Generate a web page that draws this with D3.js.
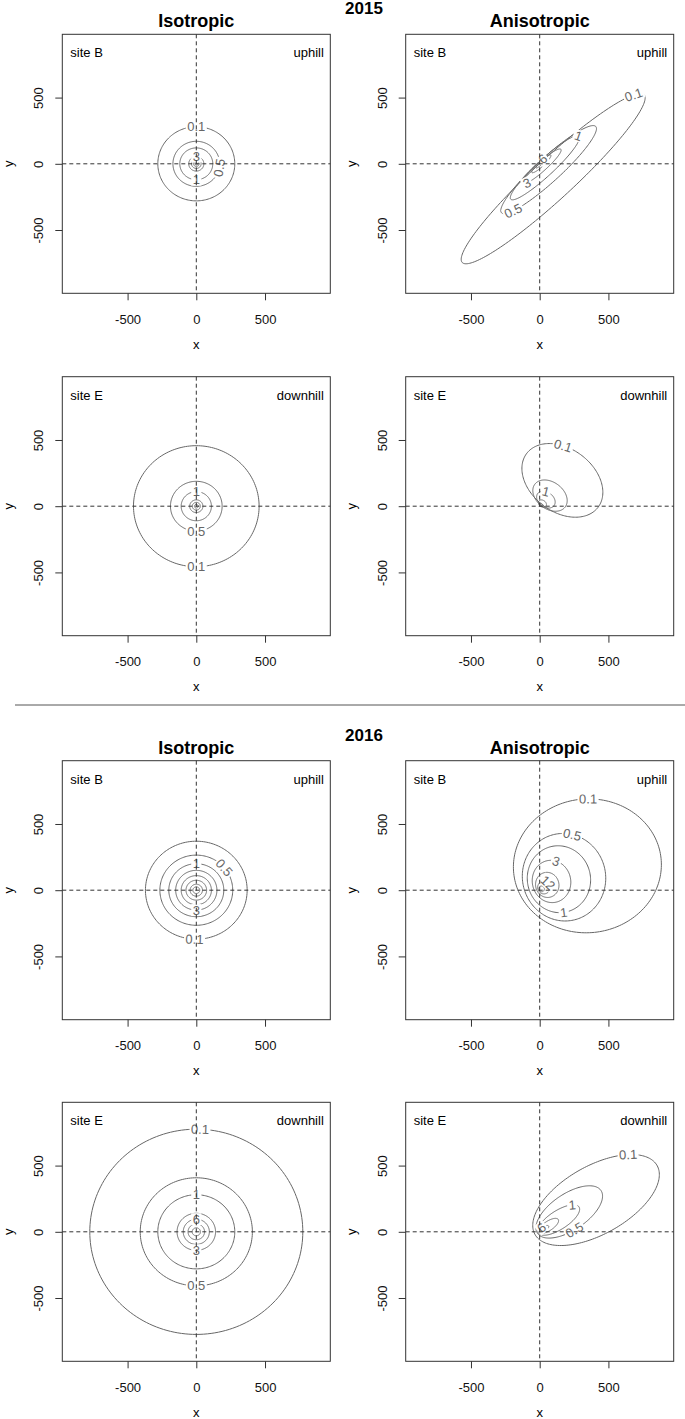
<!DOCTYPE html>
<html>
<head>
<meta charset="utf-8">
<script src="https://cdnjs.cloudflare.com/ajax/libs/d3/7.8.5/d3.min.js"></script>
<style>
body { margin: 0; background: #fff; }
text { font-family: "Liberation Sans", Arial, Helvetica, sans-serif; }
</style>
</head>
<body>
<script>
// dispersal kernel contours, 2015 / 2016, isotropic vs anisotropic

var years = ["2015", "2016"];
var models = ["Isotropic", "Anisotropic"];
var sites = ["site B", "site E"];
var slopes = ["uphill", "downhill"];
var ticks = [-500, 0, 500];
var levels = [0.1, 0.5, 1, 3, 6, 12, 24, 48];

// isotropic kernels: contour radius (m) for each level
var iso2015B = [280, 170, 120, 55, 35, 20, 10];
var iso2015E = [457, 188, 110, 48, 29, 14];
var iso2016B = [370, 265, 200, 150, 110, 75, 45, 25];
var iso2016E = [775, 408, 280, 140, 95, 60, 30];

// anisotropic kernels: [cx, cy, rx, ry, angle] for each level
var aniso2015B = [
  [98, -112, 916, 150, 43.8],
  [65, -44, 473, 90, 43.6],
  [38, -30, 344, 62, 43.8],
  [15, -20, 190, 35, 43],
  [12, 0, 95, 20, 44],
  [5, 0, 45, 10, 44]
];
var aniso2015E = [
  [165, 195, 330, 235, -40],
  [75, 80, 140, 100, -40],
  [45, 50, 75, 55, -40],
  [20, 20, 32, 24, -40],
  [10, 10, 15, 11, -40]
];
var aniso2016B = [
  [347, 184, 539, 505, 8],
  [177, 98, 303, 331, 8],
  [140, 83, 230, 253, 8],
  [86, 66, 140, 160, 8],
  [55, 40, 85, 95, 8],
  [30, 20, 45, 48, 8],
  [14, 10, 20, 22, 8]
];
var aniso2016E = [
  [410, 240, 515, 255, 31],
  [215, 150, 282, 135, 35.6],
  [138, 89, 178, 70, 34],
  [65, 45, 85, 35, 35],
  [30, 20, 42, 18, 35],
  [12, 8, 18, 8, 35]
];

// contour labels: [level index, angle on the contour]
var lab2015BIso = [[0, 90], [1, -10], [2, -90], [3, 90]];
var lab2015BAniso = [[0, 20], [1, -148], [2, 5], [3, -150], [4, 70]];
var lab2015EIso = [[0, -90], [1, -90], [2, 90]];
var lab2015EAniso = [[0, 120], [2, 122]];
var lab2016BIso = [[0, -92], [1, 40], [2, 90], [3, -90]];
var lab2016BAniso = [[0, 82], [1, 70], [2, -90], [3, 67], [5, 40]];
var lab2016EIso = [[0, 88], [1, -90], [2, 90], [3, -90], [4, 90]];
var lab2016EAniso = [[0, 43], [1, -100], [2, 35], [4, 100]];

function circles(radii) {
  return radii.map(function(r) { return [0, 0, r, r, 0]; });
}

var panels = [
  {row: 0, col: 0, year: 0, site: 0, contours: circles(iso2015B), labels: lab2015BIso},
  {row: 0, col: 1, year: 0, site: 0, contours: aniso2015B, labels: lab2015BAniso},
  {row: 1, col: 0, year: 0, site: 1, contours: circles(iso2015E), labels: lab2015EIso},
  {row: 1, col: 1, year: 0, site: 1, contours: aniso2015E, labels: lab2015EAniso},
  {row: 2, col: 0, year: 1, site: 0, contours: circles(iso2016B), labels: lab2016BIso},
  {row: 2, col: 1, year: 1, site: 0, contours: aniso2016B, labels: lab2016BAniso},
  {row: 3, col: 0, year: 1, site: 1, contours: circles(iso2016E), labels: lab2016EIso},
  {row: 3, col: 1, year: 1, site: 1, contours: aniso2016E, labels: lab2016EAniso}
];

var width = 685, height = 1419;
var colLeft = [62.3, 405.7],
    rowTop = [34.3, 376.7, 760.7, 1102.3],
    boxW = 268, boxH = 259;

var svg = d3.select("body").append("svg")
    .attr("width", width)
    .attr("height", height);

var defs = svg.append("defs");

function ellipsePoint(e, tdeg) {
  var t = tdeg * Math.PI / 180, a = e[4] * Math.PI / 180;
  var u = e[2] * Math.cos(t), v = e[3] * Math.sin(t);
  return [e[0] + u * Math.cos(a) - v * Math.sin(a),
          e[1] + u * Math.sin(a) + v * Math.cos(a)];
}

function ellipseTangent(e, tdeg) {
  var t = tdeg * Math.PI / 180, a = e[4] * Math.PI / 180;
  var u = -e[2] * Math.sin(t), v = e[3] * Math.cos(t);
  return [u * Math.cos(a) - v * Math.sin(a), u * Math.sin(a) + v * Math.cos(a)];
}

function textWidth(s) {
  // rough width of 13px digits
  var w = 0;
  for (var i = 0; i < s.length; i++) w += (s[i] === "." ? 3.6 : 7.2);
  return w;
}

panels.forEach(function(p, i) {
  var left = colLeft[p.col], top = rowTop[p.row];
  var x = d3.scaleLinear().domain([-975, 975]).range([left, left + boxW]);
  var y = d3.scaleLinear().domain([-978, 978]).range([top + boxH, top]);

  var line = d3.line()
      .x(function(d) { return x(d[0]); })
      .y(function(d) { return y(d[1]); })
      .curve(d3.curveLinearClosed);

  // label positions and angles
  var labs = p.labels.map(function(l) {
    var e = p.contours[l[0]];
    var pt = ellipsePoint(e, l[1]);
    var tg = ellipseTangent(e, l[1]);
    var ang = Math.atan2(-tg[1] * (boxH / 1956), tg[0] * (boxW / 1950)) * 180 / Math.PI;
    if (ang > 90) ang -= 180;
    if (ang < -90) ang += 180;
    var txt = String(levels[l[0]]);
    return {txt: txt, px: x(pt[0]), py: y(pt[1]), ang: ang, w: textWidth(txt) + 3};
  });

  defs.append("clipPath").attr("id", "clip" + i)
    .append("rect")
      .attr("x", left).attr("y", top)
      .attr("width", boxW).attr("height", boxH);

  var mask = defs.append("mask").attr("id", "mask" + i)
      .attr("maskUnits", "userSpaceOnUse")
      .attr("x", left).attr("y", top)
      .attr("width", boxW).attr("height", boxH);
  mask.append("rect")
      .attr("x", left).attr("y", top)
      .attr("width", boxW).attr("height", boxH)
      .attr("fill", "white");
  mask.selectAll(".hole")
    .data(labs)
    .enter().append("rect")
      .attr("x", function(d) { return -d.w / 2; })
      .attr("y", -6)
      .attr("width", function(d) { return d.w; })
      .attr("height", 12)
      .attr("transform", function(d) { return "translate(" + d.px + "," + d.py + ") rotate(" + d.ang + ")"; })
      .attr("fill", "black");

  var g = svg.append("g").attr("clip-path", "url(#clip" + i + ")");

  g.append("g").attr("mask", "url(#mask" + i + ")")
    .selectAll("path")
    .data(p.contours)
    .enter().append("path")
      .attr("d", function(e) { return line(d3.range(0, 360, 2).map(function(t) { return ellipsePoint(e, t); })); })
      .attr("fill", "none")
      .attr("stroke", "#666")
      .attr("stroke-width", 1);

  g.selectAll(".clab")
    .data(labs)
    .enter().append("text")
      .attr("transform", function(d) { return "translate(" + d.px + "," + d.py + ") rotate(" + d.ang + ")"; })
      .attr("dy", "0.35em")
      .attr("text-anchor", "middle")
      .style("font-size", "13px")
      .style("fill", "#666")
      .text(function(d) { return d.txt; });

  // dashed cross through the origin
  svg.append("line")
      .attr("x1", left).attr("x2", left + boxW)
      .attr("y1", y(0)).attr("y2", y(0))
      .attr("stroke", "#333").attr("stroke-dasharray", "4,3");
  svg.append("line")
      .attr("x1", x(0)).attr("x2", x(0))
      .attr("y1", top).attr("y2", top + boxH)
      .attr("stroke", "#333").attr("stroke-dasharray", "4,3");

  svg.append("rect")
      .attr("x", left).attr("y", top)
      .attr("width", boxW).attr("height", boxH)
      .attr("fill", "none")
      .attr("stroke", "#333");

  var xAxis = svg.append("g")
      .attr("transform", "translate(0," + (top + boxH) + ")")
      .call(d3.axisBottom(x).tickValues(ticks).tickFormat(String).tickSize(7).tickPadding(14));
  xAxis.select(".domain").remove();
  xAxis.selectAll("line").attr("stroke", "#333");
  xAxis.selectAll("text").style("font-size", "13px").style("fill", "#111")
      .attr("font-family", null);

  var yAxis = svg.append("g")
      .attr("transform", "translate(" + left + ",0)")
      .call(d3.axisLeft(y).tickValues(ticks).tickFormat(String).tickSize(7));
  yAxis.select(".domain").remove();
  yAxis.selectAll("line").attr("stroke", "#333");
  yAxis.selectAll("text")
      .attr("x", 0).attr("y", 0).attr("dy", null)
      .attr("text-anchor", "middle")
      .attr("transform", "translate(-19,0) rotate(-90)")
      .style("font-size", "13px").style("fill", "#111");

  svg.append("text")
      .attr("x", left + boxW / 2)
      .attr("y", top + boxH + 55.5)
      .attr("text-anchor", "middle")
      .style("font-size", "13px")
      .text("x");
  svg.append("text")
      .attr("transform", "translate(" + (left - 54) + "," + y(0) + ") rotate(-90)")
      .attr("dy", "0.35em")
      .attr("text-anchor", "middle")
      .style("font-size", "13px")
      .text("y");

  svg.append("text")
      .attr("x", left + 8).attr("y", top + 23)
      .style("font-size", "13px")
      .text(sites[p.site]);
  svg.append("text")
      .attr("x", left + boxW - 6.5).attr("y", top + 23)
      .attr("text-anchor", "end")
      .style("font-size", "13px")
      .text(slopes[p.site]);

  if (p.row % 2 === 0) {
    svg.append("text")
        .attr("x", left + boxW / 2).attr("y", top - 7)
        .attr("text-anchor", "middle")
        .style("font-size", "18px").style("font-weight", "bold")
        .text(models[p.col]);
  }
});

// year headings
years.forEach(function(yr, k) {
  svg.append("text")
      .attr("x", 364).attr("y", rowTop[k * 2] - 20)
      .attr("text-anchor", "middle")
      .style("font-size", "17px").style("font-weight", "bold")
      .text(yr);
});

// separator between years
svg.append("line")
    .attr("x1", 15).attr("x2", 685)
    .attr("y1", 705).attr("y2", 705)
    .attr("stroke", "#555");
</script>
</body>
</html>
